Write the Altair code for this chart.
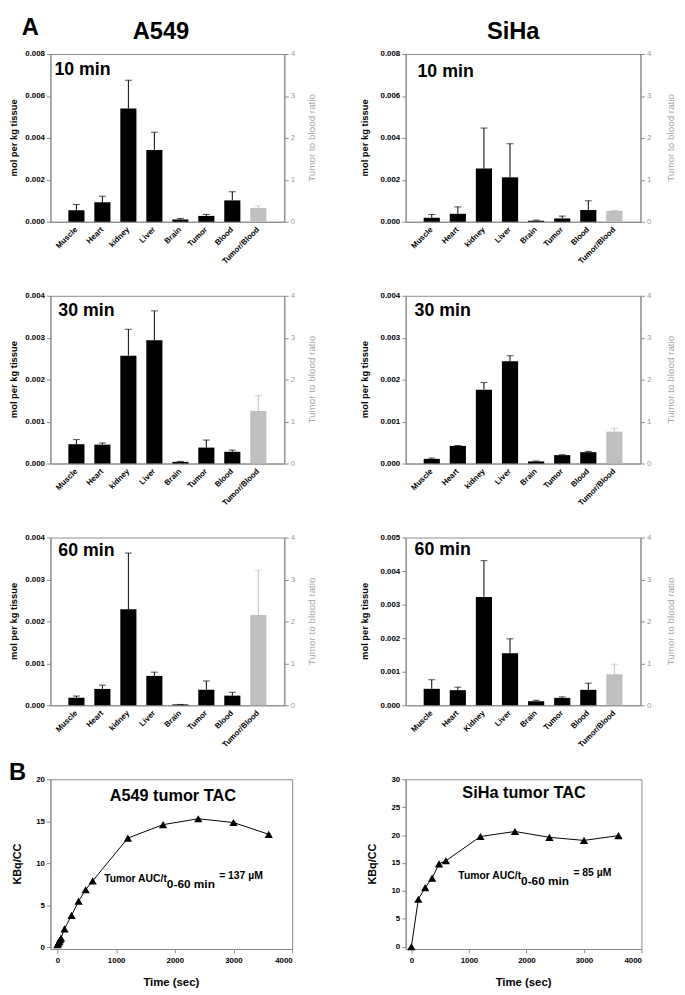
import altair as alt
import pandas as pd

# ---------------- data ----------------
organs = ["Muscle", "Heart", "kidney", "Liver", "Brain", "Tumor", "Blood"]
organs_k = ["Muscle", "Heart", "Kidney", "Liver", "Brain", "Tumor", "Blood"]
ratio_label = "Tumor/Blood"

a549_10_mean = [0.00055, 0.00093, 0.00540, 0.00342, 0.00011, 0.00028, 0.00102]
a549_10_sd = [0.00027, 0.00029, 0.00135, 0.00085, 0.00005, 0.00007, 0.00041]
a549_10_ratio, a549_10_ratio_sd = 0.33, 0.05

siha_10_mean = [0.00019, 0.00038, 0.00254, 0.00212, 0.00005, 0.00016, 0.00056]
siha_10_sd = [0.00016, 0.00033, 0.00193, 0.00160, 0.00003, 0.00011, 0.00044]
siha_10_ratio, siha_10_ratio_sd = 0.26, 0.01

a549_30_mean = [0.00046, 0.00045, 0.00257, 0.00294, 0.00004, 0.00038, 0.00028]
a549_30_sd = [0.00011, 0.00004, 0.00063, 0.00070, 0.00001, 0.00018, 0.00004]
a549_30_ratio, a549_30_ratio_sd = 1.25, 0.37

siha_30_mean = [0.00011, 0.00042, 0.00176, 0.00244, 0.00005, 0.00020, 0.00027]
siha_30_sd = [0.00002, 0.00001, 0.00017, 0.00013, 0.00001, 0.00001, 0.00002]
siha_30_ratio, siha_30_ratio_sd = 0.76, 0.08

a549_60_mean = [0.00018, 0.00039, 0.00229, 0.00070, 0.00002, 0.00037, 0.00023]
a549_60_sd = [0.00004, 0.00009, 0.00134, 0.00009, 0.00000, 0.00021, 0.00008]
a549_60_ratio, a549_60_ratio_sd = 2.15, 1.07

siha_60_mean = [0.00049, 0.00045, 0.00323, 0.00155, 0.00012, 0.00022, 0.00046]
siha_60_sd = [0.00027, 0.00009, 0.00108, 0.00043, 0.00003, 0.00003, 0.00020]
siha_60_ratio, siha_60_ratio_sd = 0.74, 0.24

a549_tac_time = [0, 15, 30, 45, 60, 120, 240, 360, 480, 600, 1200, 1800, 2400, 3000, 3600]
a549_tac_kbq = [0.3, 0.5, 0.7, 0.9, 1.1, 2.2, 3.8, 5.5, 6.85, 7.9, 13.0, 14.6, 15.3, 14.85, 13.45]

siha_tac_time = [0, 120, 240, 360, 480, 600, 1200, 1800, 2400, 3000, 3600]
siha_tac_kbq = [0.0, 8.5, 10.6, 12.3, 14.85, 15.4, 19.75, 20.65, 19.6, 19.05, 19.9]

ratio_ticks = [0, 1, 2, 3, 4]
time_ticks = [0, 1000, 2000, 3000, 4000]

# ---------------- style ----------------
FONT = "Liberation Sans"
AX = "#8a8a8a"
RATIO_FILL = "#c0c0c0"
RATIO_TXT = "#a6a6a6"


def txt(text, x, y, size, bold=True, color="black", align="left",
        baseline="alphabetic", angle=None):
    m = dict(font=FONT, fontSize=size, fontWeight="bold" if bold else "normal",
             color=color, align=align, baseline=baseline)
    if angle is not None:
        m["angle"] = angle
    return alt.Chart(pd.DataFrame({"t": [text]})).mark_text(**m).encode(
        text="t:N", x=alt.value(x), y=alt.value(y))


def bar_panel(cats, means, sds, ratio, ratio_sd, ymax, yticks, label, w, h,
              lx, ly, ltitle_x, rtitle_x, extras=()):
    all_cats = cats + [ratio_label]
    df = pd.DataFrame({"cat": cats, "val": means,
                       "top": [m + s for m, s in zip(means, sds)]})
    dr = pd.DataFrame({"cat": [ratio_label], "val": [ratio], "top": [ratio + ratio_sd]})
    xenc = alt.X("cat:N", sort=all_cats,
                 scale=alt.Scale(domain=all_cats, paddingInner=0.38, paddingOuter=0.69),
                 axis=alt.Axis(title=None, labels=False, ticks=False, domainColor=AX))
    lscale = alt.Scale(domain=[0, ymax], nice=False)
    laxis = alt.Axis(title=None, orient="left", values=yticks, format=".3f",
                     labelFont=FONT, labelFontSize=8, labelFontWeight="bold",
                     labelColor="black", grid=False, tickColor=AX, domainColor=AX,
                     tickSize=4, labelPadding=2)
    rscale = alt.Scale(domain=[0, 4], nice=False)
    raxis = alt.Axis(title=None, orient="right", values=ratio_ticks, format="d",
                     labelFont=FONT, labelFontSize=8, labelColor="#999999",
                     grid=False, tickColor=AX, domainColor=AX, tickSize=4,
                     labelPadding=2)
    b = alt.Chart(df)
    bars = b.mark_bar(color="black").encode(
        x=xenc, y=alt.Y("val:Q", scale=lscale, axis=laxis))
    rule = b.mark_rule(color="black", strokeWidth=1).encode(
        x=xenc, y=alt.Y("val:Q", scale=lscale, axis=laxis), y2="top:Q")
    cap = b.mark_tick(color="black", thickness=1, size=7).encode(
        x=xenc, y=alt.Y("top:Q", scale=lscale, axis=laxis))
    left = alt.layer(bars, rule, cap)
    r = alt.Chart(dr)
    rbar = r.mark_bar(color=RATIO_FILL).encode(
        x=xenc, y=alt.Y("val:Q", scale=rscale, axis=raxis))
    rrule = r.mark_rule(color=RATIO_FILL, strokeWidth=1).encode(
        x=xenc, y=alt.Y("val:Q", scale=rscale, axis=raxis), y2="top:Q")
    rcap = r.mark_tick(color=RATIO_FILL, thickness=1, size=7).encode(
        x=xenc, y=alt.Y("top:Q", scale=rscale, axis=raxis))
    right = alt.layer(rbar, rrule, rcap)
    xlabels = alt.Chart(pd.DataFrame({"cat": all_cats})).mark_text(
        angle=315, align="right", baseline="middle", font=FONT, fontSize=8,
        fontWeight="bold", color="black").encode(
        x=xenc, y=alt.value(h + 7), text="cat:N")
    texts = [
        xlabels,
        txt(label, lx, ly, 18),
        txt("mol per kg tissue", ltitle_x, h / 2, 9.5, align="center",
            baseline="middle", angle=270),
        txt("Tumor to blood ratio", w + rtitle_x, h / 2, 10, bold=False,
            color=RATIO_TXT, align="center", baseline="middle", angle=270),
    ] + list(extras)
    return alt.layer(left, right, *texts).resolve_scale(y="independent").properties(
        width=w, height=h)


def line_panel(times, vals, xdom, ydom, yticks, w, h, title, tx, ty,
               auc, ax, ay, extras=()):
    df = pd.DataFrame({"t": times, "v": vals})
    x = alt.X("t:Q", scale=alt.Scale(domain=xdom, nice=False, zero=False),
              axis=alt.Axis(title=None, values=time_ticks, format="d", labelFont=FONT,
                            labelFontSize=8, labelFontWeight="bold", labelColor="black",
                            grid=False, tickColor=AX, domainColor=AX, tickSize=4,
                            labelPadding=4))
    y = alt.Y("v:Q", scale=alt.Scale(domain=ydom, nice=False, zero=False),
              axis=alt.Axis(title=None, values=yticks, format="d", labelFont=FONT,
                            labelFontSize=8, labelFontWeight="bold", labelColor="black",
                            grid=False, tickColor=AX, domainColor=AX, tickSize=4,
                            labelPadding=2))
    line = alt.Chart(df).mark_line(color="black", strokeWidth=1).encode(x=x, y=y)
    pts = alt.Chart(df).mark_point(shape="triangle-up", filled=True, color="black",
                                   size=70, opacity=1).encode(x=x, y=y)
    texts = [
        txt(title, tx, ty, 16.5, align="center"),
        txt("Tumor AUC/t", ax, ay, 10.5, align="right"),
        txt("0-60 min", ax, ay + 6, 12, align="left"),
        txt(auc, ax + 53, ay - 3, 10.5, align="left"),
        txt("KBq/CC", -33, h / 2, 11, align="center", baseline="middle", angle=270),
        txt("Time (sec)", w / 2, h + 38, 11.5, align="center"),
    ] + list(extras)
    return alt.layer(line, pts, *texts).properties(width=w, height=h)


# invisible anchor fixing the top-left corner of the layout
anchor = alt.Chart(pd.DataFrame({"a": [0]})).mark_rect(opacity=0).encode(
    x=alt.value(-42), x2=alt.value(-41), y=alt.value(-39), y2=alt.value(-38))

t8 = [0, 0.002, 0.004, 0.006, 0.008]
t4 = [0, 0.001, 0.002, 0.003, 0.004]
t5 = [0, 0.001, 0.002, 0.003, 0.004, 0.005]

p1 = bar_panel(organs, a549_10_mean, a549_10_sd, a549_10_ratio, a549_10_ratio_sd,
               0.008, t8, "10 min", 237, 170, 4, 21, -37, 28,
               extras=[anchor, txt("A549", 112, -15, 24, align="center"),
                       txt("A", -29, -19, 24)])
p2 = bar_panel(organs, siha_10_mean, siha_10_sd, siha_10_ratio, siha_10_ratio_sd,
               0.008, t8, "10 min", 238, 170, 12, 23, -41, 31,
               extras=[txt("SiHa", 109, -15, 24, align="center")])
p3 = bar_panel(organs, a549_30_mean, a549_30_sd, a549_30_ratio, a549_30_ratio_sd,
               0.004, t4, "30 min", 237, 170, 8, 20, -37, 28)
p4 = bar_panel(organs, siha_30_mean, siha_30_sd, siha_30_ratio, siha_30_ratio_sd,
               0.004, t4, "30 min", 238, 170, 9, 20, -41, 31)
p5 = bar_panel(organs, a549_60_mean, a549_60_sd, a549_60_ratio, a549_60_ratio_sd,
               0.004, t4, "60 min", 237, 170, 8, 19, -37, 28)
p6 = bar_panel(organs_k, siha_60_mean, siha_60_sd, siha_60_ratio, siha_60_ratio_sd,
               0.005, t5, "60 min", 238, 170, 9, 18, -41, 31)
p7 = line_panel(a549_tac_time, a549_tac_kbq, [-120, 4000], [-0.2, 20],
                [0, 5, 10, 15, 20], 245, 172, "A549 tumor TAC", 124, 22,
                "= 137 µM", 118, 104, extras=[txt("B", -42, 1, 24)])
p8 = line_panel(siha_tac_time, siha_tac_kbq, [-100, 4000], [-0.4, 30],
                [0, 5, 10, 15, 20, 25, 30], 239, 172, "SiHa tumor TAC", 120, 19,
                "= 85 µM", 117, 101)

chart = alt.concat(p1, p2, p3, p4, p5, p6, p7, p8, columns=2,
                   spacing={"row": 75, "column": 115}, bounds="flush").configure_view(
    stroke=AX, strokeWidth=1).properties(padding=0, background="white")

chart.save("out.html", embed_options={"renderer": "svg", "actions": False})
